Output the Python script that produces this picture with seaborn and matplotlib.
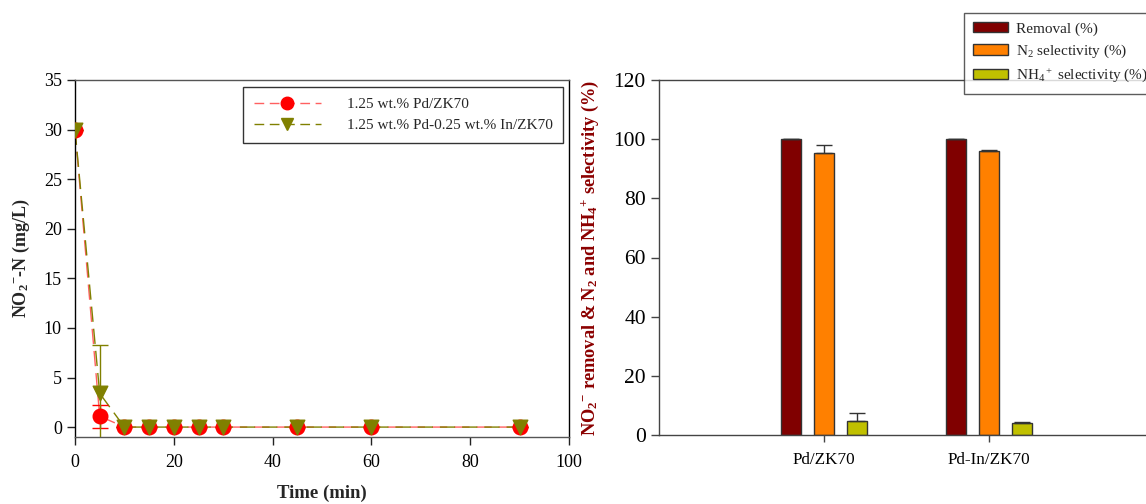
import numpy as np
import pandas as pd
import matplotlib
matplotlib.use("Agg")
import matplotlib.pyplot as plt
import seaborn as sns

# Nitrite-N concentration over time
time_min = [0, 5, 10, 15, 20, 25, 30, 45, 60, 90]
pd_zk70 = [30.0, 1.1, 0, 0, 0, 0, 0, 0, 0, 0]
pd_zk70_err = [0, 1.15, 0, 0, 0, 0, 0, 0, 0, 0]
pdin_zk70 = [30.0, 3.4, 0, 0, 0, 0, 0, 0, 0, 0]
pdin_zk70_err = [0, 4.9, 0, 0, 0, 0, 0, 0, 0, 0]
series_names = ["1.25 wt.% Pd/ZK70", "1.25 wt.% Pd-0.25 wt.% In/ZK70"]

# Removal and selectivity per catalyst
catalysts = ["Pd/ZK70", "Pd-In/ZK70"]
metrics = ["Removal (%)", "N$_2$ selectivity (%)", "NH$_4$$^+$ selectivity (%)"]
removal = [100.0, 100.0]
removal_err = [0.0, 0.0]
n2_sel = [95.3, 96.0]
n2_sel_err = [2.7, 0.2]
nh4_sel = [4.6, 4.05]
nh4_sel_err = [2.8, 0.2]

sns.set_theme(style="ticks")
plt.rcParams["font.family"] = ["Liberation Serif", "DejaVu Serif"]
plt.rcParams["mathtext.fontset"] = "custom"
plt.rcParams["mathtext.rm"] = "Liberation Serif"
plt.rcParams["mathtext.it"] = "Liberation Serif:italic"
plt.rcParams["mathtext.bf"] = "Liberation Serif:bold"

W, H = 1146, 504
fig = plt.figure(figsize=(W / 100, H / 100), dpi=100)

def frac_box(x0, y0, x1, y1):
    return [x0 / W, 1 - y1 / H, (x1 - x0) / W, (y1 - y0) / H]

# ---------------- left panel: concentration vs time ----------------
ax1 = fig.add_axes(frac_box(75, 80, 569, 437))
line_df = pd.DataFrame({
    "Time": time_min * 2,
    "Conc": pd_zk70 + pdin_zk70,
    "Catalyst": [series_names[0]] * len(time_min) + [series_names[1]] * len(time_min),
})
palette_lines = {series_names[0]: "#ff6060", series_names[1]: "#808000"}
sns.lineplot(data=line_df, x="Time", y="Conc", hue="Catalyst", palette=palette_lines,
             ax=ax1, legend=False, linewidth=1.0, estimator=None, sort=False)
for ln in ax1.get_lines():
    ln.set_linestyle((0, (11, 5)))

mcolors = ["#ff0000", "#808000"]
markers = ["o", "v"]
handles = []
for vals, errs, mc, mk, name in zip([pd_zk70, pdin_zk70], [pd_zk70_err, pdin_zk70_err],
                                    mcolors, markers, series_names):
    ax1.errorbar(time_min, vals, yerr=errs, fmt="none", ecolor=mc, elinewidth=1.0,
                 capsize=6, capthick=1.0, zorder=3)
    ax1.scatter(time_min, vals, s=110, marker=mk, color=mc, edgecolor=mc, zorder=4)
    handles.append(plt.Line2D([], [], color=palette_lines[name], lw=1.0,
                              linestyle=(0, (7, 4)),
                              marker=mk, markersize=9, markerfacecolor=mc,
                              markeredgecolor=mc))

ax1.set_xlim(0, 100)
ax1.set_ylim(-1, 35)
ax1.set_xticks([0, 20, 40, 60, 80, 100])
ax1.set_yticks([0, 5, 10, 15, 20, 25, 30, 35])
ax1.tick_params(axis="both", direction="out", length=6, width=1, labelsize=13,
                colors="#222222", labelcolor="black")
ax1.tick_params(axis="x", pad=6)
for side in ["left", "right"]:
    ax1.spines[side].set_color("black")
for side in ["top", "bottom"]:
    ax1.spines[side].set_color("#555555")
for sp in ax1.spines.values():
    sp.set_linewidth(1.0)
ax1.set_xlabel("Time (min)", fontsize=13.5, fontweight="bold")
ax1.xaxis.set_label_coords(0.5, -0.133)
ax1.set_ylabel(r"NO$_\mathbf{2}$$^\mathbf{-}$-N (mg/L)", fontsize=13,
               fontweight="bold")
ax1.yaxis.set_label_coords(-(75 - 32) / 494, 0.5)
leg1 = ax1.legend(handles, series_names, loc="upper left",
                  bbox_to_anchor=(168 / 494, 1 - 7 / 357), frameon=True, fancybox=False,
                  edgecolor="black", fontsize=11, handlelength=4.4, handletextpad=1.7,
                  borderpad=0.7, labelspacing=0.45, borderaxespad=0)
leg1.get_frame().set_linewidth(1.0)

# ---------------- right panel: removal and selectivity ----------------
ax2 = fig.add_axes(frac_box(659, 80, 1154, 435))
bar_df = pd.DataFrame({
    "Catalyst": catalysts * 3,
    "Metric": [metrics[0]] * 2 + [metrics[1]] * 2 + [metrics[2]] * 2,
    "Value": removal + n2_sel + nh4_sel,
})
bar_colors = ["#800000", "#ff8000", "#c0c000"]
sns.barplot(data=bar_df, x="Catalyst", y="Value", hue="Metric", order=catalysts,
            hue_order=metrics, palette=bar_colors, width=0.6, gap=0.4, errorbar=None,
            edgecolor="#333333", linewidth=1.0, saturation=1, ax=ax2, legend=False)

# one-sided error bars on top of each bar
err_sets = [removal_err, n2_sel_err, nh4_sel_err]
val_sets = [removal, n2_sel, nh4_sel]
offsets = [-0.2, 0.0, 0.2]
for vals, errs, off in zip(val_sets, err_sets, offsets):
    xs = np.arange(len(catalysts)) + off
    ax2.errorbar(xs, vals, yerr=[np.zeros(len(errs)), errs], fmt="none",
                 ecolor="#333333", elinewidth=1.0, capsize=6, capthick=1.0, zorder=3)

ax2.set_xlim(-1, 2)
ax2.set_ylim(0, 120)
ax2.set_yticks([0, 20, 40, 60, 80, 100, 120])
ax2.tick_params(axis="y", direction="out", length=6, width=1, labelsize=15.5,
                colors="#444444", labelcolor="black")
ax2.tick_params(axis="x", direction="out", length=5, width=1, labelsize=12.3,
                colors="#444444", labelcolor="black", pad=7)
ax2.set_xlabel("")
ax2.set_ylabel(r"NO$_\mathbf{2}$$^\mathbf{-}$ removal & N$_\mathbf{2}$ and NH$_\mathbf{4}$$^\mathbf{+}$ selectivity (%)",
               fontsize=13.2, fontweight="bold", color="#8b0000")
ax2.yaxis.set_label_coords(-(659 - 601) / 495, 0.5)
for sp in ax2.spines.values():
    sp.set_color("#444444")
    sp.set_linewidth(1.0)

bar_handles = [plt.Rectangle((0, 0), 1, 1, facecolor=c, edgecolor="#333333", linewidth=1.0)
               for c in bar_colors]
leg2 = fig.legend(bar_handles, metrics, loc="upper left",
                  bbox_to_anchor=(964 / W, 1 - 13 / H), frameon=True, fancybox=False,
                  edgecolor="#333333", fontsize=11, handlelength=2.3, handleheight=0.65,
                  handletextpad=0.5, borderpad=0.6, labelspacing=0.45, borderaxespad=0)
leg2.get_frame().set_linewidth(1.0)

fig.savefig("out.png", dpi=100)
